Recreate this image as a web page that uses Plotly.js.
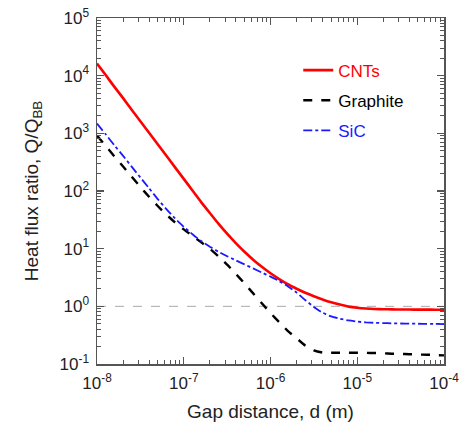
<!DOCTYPE html>
<html>
<head>
<meta charset="utf-8">
<script src="https://cdn.plot.ly/plotly-3.0.1.min.js"></script>
<style>html,body{margin:0;padding:0;background:#fff;}#chart{width:466px;height:428px;}</style>
</head>
<body>
<div id="chart"></div>
<script>
// Gap distance d (m)
const gapDistance = [
  1e-8, 1.26e-8, 1.58e-8, 2e-8, 2.51e-8, 3.16e-8, 3.98e-8, 5.01e-8, 6.31e-8, 7.94e-8,
  1e-7, 1.26e-7, 1.58e-7, 2e-7, 2.51e-7, 3.16e-7, 3.98e-7, 5.01e-7, 6.31e-7, 7.94e-7,
  1e-6, 1.26e-6, 1.58e-6, 2e-6, 2.51e-6, 3.16e-6, 3.98e-6, 5.01e-6, 6.31e-6, 7.94e-6,
  1e-5, 1.26e-5, 1.58e-5, 2e-5, 2.51e-5, 3.16e-5, 3.98e-5, 5.01e-5, 6.31e-5, 7.94e-5,
  1e-4];
// Heat flux ratio Q/Q_BB
const cnts = [
  16218, 10233, 6457, 4074, 2570, 1622, 1023, 645.7, 407.4, 257.0,
  162.2, 102.3, 64.86, 41.59, 27.16, 18.16, 12.47, 8.83, 6.44, 4.84,
  3.74, 2.97, 2.42, 2.02, 1.722, 1.500, 1.318, 1.175, 1.072, 0.989,
  0.944, 0.916, 0.899, 0.891, 0.885, 0.881, 0.879, 0.877, 0.877, 0.875,
  0.875];
const graphite = [
  912.0, 605.3, 401.8, 266.7, 177.0, 117.5, 79.43, 54.95, 38.90, 28.51,
  21.63, 16.71, 12.97, 9.95, 7.38, 5.28, 3.67, 2.495, 1.679, 1.130,
  0.767, 0.531, 0.376, 0.279, 0.209, 0.172, 0.158, 0.157, 0.157, 0.157,
  0.157, 0.156, 0.155, 0.153, 0.151, 0.150, 0.148, 0.146, 0.145, 0.143,
  0.141];
const sic = [
  1479, 961.6, 625.2, 406.4, 264.2, 171.8, 111.7, 72.44, 48.42, 33.50,
  23.99, 17.78, 13.65, 10.84, 8.85, 7.40, 6.27, 5.33, 4.54, 3.86,
  3.27, 2.735, 2.223, 1.726, 1.288, 0.977, 0.776, 0.668, 0.610, 0.569,
  0.543, 0.527, 0.518, 0.512, 0.507, 0.504, 0.501, 0.499, 0.497, 0.495,
  0.494];

const seriesNames = ['CNTs', 'Graphite', 'SiC'];
const xTickVals = [1e-8, 1e-7, 1e-6, 1e-5, 1e-4];
const xTickText = ['10<sup>-8</sup>', '10<sup>-7</sup>', '10<sup>-6</sup>', '10<sup>-5</sup>', '10<sup>-4</sup>'];
const yTickVals = [1e-1, 1e0, 1e1, 1e2, 1e3, 1e4, 1e5];
const yTickText = ['10<sup>-1</sup>', '10<sup>0</sup>', '10<sup>1</sup>', '10<sup>2</sup>', '10<sup>3</sup>', '10<sup>4</sup>', '10<sup>5</sup>'];

// minor tick positions (2..9 within each decade)
function minorTicks(decades) {
  const out = [];
  decades.slice(0, -1).forEach(function (d) { for (let k = 2; k <= 9; k++) out.push(k * d); });
  return out;
}

const RED = '#ff0000', BLACK = '#000000', BLUE = '#1a1aff';
const FONT = 'Liberation Sans, Arial, sans-serif';

const traces = [
  {x: gapDistance, y: cnts, mode: 'lines', line: {color: RED, width: 2.6, shape: 'spline', smoothing: 0.5},
   name: '<span style="color:' + RED + '">' + seriesNames[0] + '</span>', legendgroup: 'a'},
  {x: gapDistance, y: graphite, mode: 'lines', line: {color: BLACK, width: 2.4, dash: 'dash', shape: 'spline', smoothing: 0.5},
   name: '<span style="color:' + BLACK + '">' + seriesNames[1] + '</span>', legendgroup: 'b'},
  {x: gapDistance, y: sic, mode: 'lines', line: {color: BLUE, width: 1.8, dash: 'dashdot', shape: 'spline', smoothing: 0.5},
   name: '<span style="color:' + BLUE + '">' + seriesNames[2] + '</span>', legendgroup: 'c'}
];

const axisCommon = {
  type: 'log', showgrid: false, zeroline: false,
  showline: true, linecolor: '#555', linewidth: 1.5, mirror: 'allticks',
  ticks: 'inside', ticklen: 7, tickwidth: 1.2, tickcolor: '#555',
  tickmode: 'array', ticklabelstandoff: 3,
  tickfont: {family: FONT, size: 17, color: '#222'}
};

const layout = {
  width: 466, height: 428,
  margin: {l: 97, r: 22, t: 18, b: 64},
  paper_bgcolor: '#fff', plot_bgcolor: '#fff',
  font: {family: FONT, color: '#222'},
  showlegend: true,
  legend: {x: 0.58, y: 0.9, xanchor: 'left', yanchor: 'top', bgcolor: 'rgba(0,0,0,0)',
           font: {family: FONT, size: 17}, tracegroupgap: 5, traceorder: 'grouped'},
  xaxis: Object.assign({}, axisCommon, {
    range: [-8, -4], tickvals: xTickVals, ticktext: xTickText,
    minor: {tickmode: 'array', tickvals: minorTicks(xTickVals), ticks: 'inside', ticklen: 4, tickwidth: 1, tickcolor: '#555', showgrid: false},
    title: {text: 'Gap distance, d (m)', font: {family: FONT, size: 19, color: '#222'}, standoff: 13}
  }),
  yaxis: Object.assign({}, axisCommon, {
    range: [-1, 5], tickvals: yTickVals, ticktext: yTickText,
    minor: {tickmode: 'array', tickvals: minorTicks(yTickVals), ticks: 'inside', ticklen: 4, tickwidth: 1, tickcolor: '#555', showgrid: false},
    title: {text: 'Heat flux ratio, Q/Q<sub>BB</sub>', font: {family: FONT, size: 19, color: '#222'}, standoff: 16}
  }),
  shapes: [{type: 'line', xref: 'paper', x0: 0, x1: 1, yref: 'y', y0: 1, y1: 1,
            line: {color: '#aaaaaa', width: 1, dash: 'dash'}, layer: 'below'}]
};

Plotly.newPlot('chart', traces, layout, {displayModeBar: false, staticPlot: true});
</script>
</body>
</html>
